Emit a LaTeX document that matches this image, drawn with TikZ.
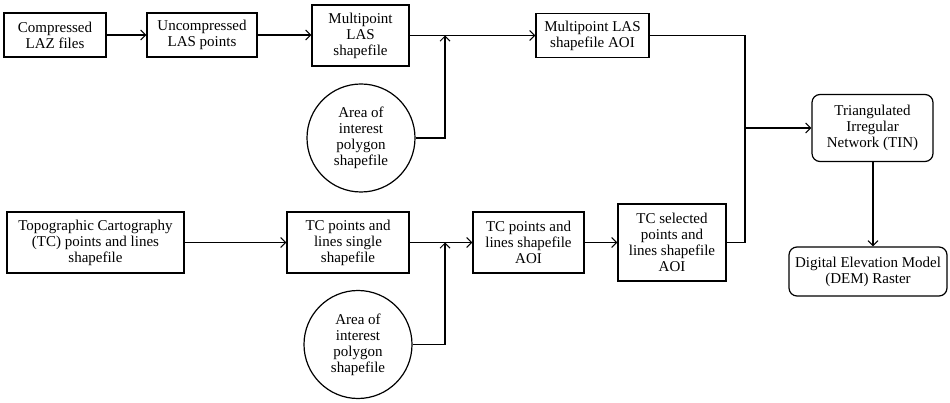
\documentclass[tikz,border=0pt]{standalone}
\usepackage{fontspec}
\setmainfont{Liberation Serif}
\usetikzlibrary{arrows.meta}
\begin{document}
\begin{tikzpicture}[x=1pt,y=-1pt,
  box/.style={draw,line width=1.2pt,align=center,inner sep=1pt,font=\fontsize{15}{16}\selectfont},
  rbox/.style={box,rounded corners=8pt},
  circ/.style={draw,line width=1.2pt,circle,align=center,inner sep=0pt,minimum size=108pt,font=\fontsize{15}{16}\selectfont},
  arr/.style={line width=1.2pt,-{Straight Barb[length=5pt,width=10pt,line width=1pt]}},
  ln/.style={line width=1.2pt}]
\useasboundingbox (0,0) rectangle (950,403);
\node[box,minimum width=102pt,minimum height=44pt] (laz) at (55,35) {Compressed\\LAZ files};
\node[box,minimum width=110pt,minimum height=44pt] (las) at (202,35) {Uncompressed\\LAS points};
\node[box,minimum width=97pt,minimum height=61pt] (mlas) at (360.5,35.5) {Multipoint\\LAS\\shapefile};
\node[circ] (aoi1) at (361,138) {Area of\\interest\\polygon\\shapefile};
\node[box,minimum width=113pt,minimum height=44pt] (mlasaoi) at (592.5,35.5) {Multipoint LAS\\shapefile AOI};
\node[rbox,minimum width=121pt,minimum height=67pt] (tin) at (872.5,128) {Triangulated\\Irregular\\Network (TIN)};
\node[rbox,minimum width=158pt,minimum height=49pt] (dem) at (868,271.5) {Digital Elevation Model\\(DEM) Raster};
\node[box,minimum width=177pt,minimum height=61pt] (tc) at (95.5,242.5) {Topographic Cartography\\(TC) points and lines\\shapefile};
\node[box,minimum width=122pt,minimum height=61pt] (tcs) at (348,242.5) {TC points and\\lines single\\shapefile};
\node[circ] (aoi2) at (358,344.5) {Area of\\interest\\polygon\\shapefile};
\node[box,minimum width=111pt,minimum height=61pt] (tcaoi) at (528.5,242.5) {TC points and\\lines shapefile\\AOI};
\node[box,minimum width=108pt,minimum height=77pt] (tcsel) at (672,242.5) {TC selected\\points and\\lines shapefile\\AOI};
\coordinate (j1) at (445,35.5);
\coordinate (j2) at (745,128);
\coordinate (j3) at (445,242.5);
\draw[arr] (laz) -- (las);
\draw[arr] (las) -- (las -| mlas.west);
\draw[arr] (mlas) -- (mlasaoi);
\draw[arr] (aoi1.east) -| (j1);
\draw[ln] (mlasaoi.east) -| (j2);
\draw[ln] (tcsel.east) -| (j2);
\draw[arr] (j2) -- (tin.west);
\draw[arr] (tin.south -| 873,0) -- (dem.north -| 873,0);
\draw[arr] (tc) -- (tcs);
\draw[arr] (aoi2.east) -| (j3);
\draw[arr] (tcs) -- (tcaoi);
\draw[arr] (tcaoi) -- (tcsel);
\end{tikzpicture}
\end{document}
